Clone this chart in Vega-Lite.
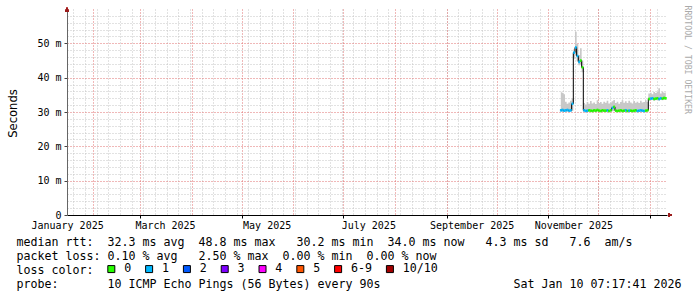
{
  "$schema": "https://vega.github.io/schema/vega-lite/v6.json",
  "autosize": "none",
  "width": 600,
  "height": 206,
  "padding": {"left": 67, "top": 9, "right": 30, "bottom": 82},
  "background": "white",
  "config": {"view": {"stroke": null}, "font": "DejaVu Sans Mono"},
  "data": {"values": [
    {"t": "2025-11-08T12:00:00", "med": 30.5, "lo": 30.0, "hi": 35.9, "loss": "1"},
    {"t": "2025-11-09T12:00:00", "med": 30.6, "lo": 30.0, "hi": 35.6, "loss": "1"},
    {"t": "2025-11-10T12:00:00", "med": 30.4, "lo": 30.0, "hi": 35.2, "loss": "1"},
    {"t": "2025-11-11T12:00:00", "med": 30.5, "lo": 30.0, "hi": 33.0, "loss": "1"},
    {"t": "2025-11-12T12:00:00", "med": 30.6, "lo": 30.1, "hi": 32.4, "loss": "1"},
    {"t": "2025-11-13T12:00:00", "med": 30.4, "lo": 30.0, "hi": 32.8, "loss": "1"},
    {"t": "2025-11-14T12:00:00", "med": 30.5, "lo": 30.0, "hi": 33.3, "loss": "1"},
    {"t": "2025-11-15T12:00:00", "med": 32.4, "lo": 30.3, "hi": 33.9, "loss": "1"},
    {"t": "2025-11-16T12:00:00", "med": 47.3, "lo": 45.5, "hi": 48.3, "loss": "1"},
    {"t": "2025-11-17T12:00:00", "med": 48.8, "lo": 46.5, "hi": 53.4, "loss": "1"},
    {"t": "2025-11-18T12:00:00", "med": 46.3, "lo": 44.8, "hi": 49.8, "loss": "1"},
    {"t": "2025-11-19T12:00:00", "med": 44.6, "lo": 43.6, "hi": 46.6, "loss": "1"},
    {"t": "2025-11-20T12:00:00", "med": 45.0, "lo": 43.8, "hi": 48.6, "loss": "0"},
    {"t": "2025-11-21T12:00:00", "med": 43.0, "lo": 41.6, "hi": 45.0, "loss": "0"},
    {"t": "2025-11-22T12:00:00", "med": 30.5, "lo": 30.0, "hi": 32.6, "loss": "1"},
    {"t": "2025-11-23T12:00:00", "med": 30.3, "lo": 29.9, "hi": 32.2, "loss": "1"},
    {"t": "2025-11-24T12:00:00", "med": 30.4, "lo": 30.0, "hi": 32.9, "loss": "1"},
    {"t": "2025-11-25T12:00:00", "med": 30.5, "lo": 30.0, "hi": 32.4, "loss": "0"},
    {"t": "2025-11-26T12:00:00", "med": 30.4, "lo": 30.0, "hi": 33.2, "loss": "0"},
    {"t": "2025-11-27T12:00:00", "med": 30.3, "lo": 29.9, "hi": 32.5, "loss": "0"},
    {"t": "2025-11-28T12:00:00", "med": 30.5, "lo": 30.0, "hi": 32.8, "loss": "0"},
    {"t": "2025-11-29T12:00:00", "med": 30.4, "lo": 30.0, "hi": 32.3, "loss": "0"},
    {"t": "2025-11-30T12:00:00", "med": 30.6, "lo": 30.1, "hi": 33.4, "loss": "0"},
    {"t": "2025-12-01T12:00:00", "med": 30.4, "lo": 30.0, "hi": 32.6, "loss": "0"},
    {"t": "2025-12-02T12:00:00", "med": 30.3, "lo": 29.9, "hi": 32.9, "loss": "0"},
    {"t": "2025-12-03T12:00:00", "med": 30.5, "lo": 30.0, "hi": 32.4, "loss": "0"},
    {"t": "2025-12-04T12:00:00", "med": 30.4, "lo": 30.0, "hi": 33.0, "loss": "0"},
    {"t": "2025-12-05T12:00:00", "med": 30.4, "lo": 29.9, "hi": 32.7, "loss": "0"},
    {"t": "2025-12-06T12:00:00", "med": 30.5, "lo": 30.0, "hi": 33.3, "loss": "1"},
    {"t": "2025-12-07T12:00:00", "med": 30.3, "lo": 29.9, "hi": 32.5, "loss": "0"},
    {"t": "2025-12-08T12:00:00", "med": 30.5, "lo": 30.0, "hi": 32.8, "loss": "0"},
    {"t": "2025-12-09T12:00:00", "med": 31.2, "lo": 30.2, "hi": 33.1, "loss": "1"},
    {"t": "2025-12-10T12:00:00", "med": 31.5, "lo": 30.3, "hi": 33.5, "loss": "0"},
    {"t": "2025-12-11T12:00:00", "med": 30.4, "lo": 30.0, "hi": 32.6, "loss": "0"},
    {"t": "2025-12-12T12:00:00", "med": 30.3, "lo": 29.9, "hi": 33.0, "loss": "0"},
    {"t": "2025-12-13T12:00:00", "med": 30.4, "lo": 30.0, "hi": 32.4, "loss": "0"},
    {"t": "2025-12-14T12:00:00", "med": 30.5, "lo": 30.0, "hi": 32.9, "loss": "0"},
    {"t": "2025-12-15T12:00:00", "med": 30.3, "lo": 29.9, "hi": 33.4, "loss": "0"},
    {"t": "2025-12-16T12:00:00", "med": 30.4, "lo": 30.0, "hi": 32.7, "loss": "0"},
    {"t": "2025-12-17T12:00:00", "med": 30.5, "lo": 30.0, "hi": 33.1, "loss": "1"},
    {"t": "2025-12-18T12:00:00", "med": 30.3, "lo": 29.9, "hi": 32.6, "loss": "0"},
    {"t": "2025-12-19T12:00:00", "med": 30.4, "lo": 30.0, "hi": 33.3, "loss": "1"},
    {"t": "2025-12-20T12:00:00", "med": 30.4, "lo": 30.0, "hi": 32.8, "loss": "0"},
    {"t": "2025-12-21T12:00:00", "med": 30.3, "lo": 29.9, "hi": 32.5, "loss": "0"},
    {"t": "2025-12-22T12:00:00", "med": 30.4, "lo": 30.0, "hi": 33.2, "loss": "0"},
    {"t": "2025-12-23T12:00:00", "med": 30.5, "lo": 30.0, "hi": 32.7, "loss": "0"},
    {"t": "2025-12-24T12:00:00", "med": 30.3, "lo": 29.9, "hi": 33.0, "loss": "1"},
    {"t": "2025-12-25T12:00:00", "med": 30.4, "lo": 30.0, "hi": 32.6, "loss": "1"},
    {"t": "2025-12-26T12:00:00", "med": 30.5, "lo": 30.0, "hi": 33.3, "loss": "1"},
    {"t": "2025-12-27T12:00:00", "med": 30.4, "lo": 30.0, "hi": 32.8, "loss": "1"},
    {"t": "2025-12-28T12:00:00", "med": 30.3, "lo": 29.9, "hi": 32.9, "loss": "1"},
    {"t": "2025-12-29T12:00:00", "med": 30.4, "lo": 30.0, "hi": 33.4, "loss": "0"},
    {"t": "2025-12-30T12:00:00", "med": 30.5, "lo": 30.0, "hi": 32.9, "loss": "0"},
    {"t": "2025-12-31T12:00:00", "med": 33.8, "lo": 33.3, "hi": 35.4, "loss": "0"},
    {"t": "2026-01-01T12:00:00", "med": 33.9, "lo": 33.4, "hi": 35.6, "loss": "1"},
    {"t": "2026-01-02T12:00:00", "med": 34.0, "lo": 33.5, "hi": 35.2, "loss": "1"},
    {"t": "2026-01-03T12:00:00", "med": 33.8, "lo": 33.3, "hi": 35.8, "loss": "0"},
    {"t": "2026-01-04T12:00:00", "med": 33.9, "lo": 33.4, "hi": 35.5, "loss": "0"},
    {"t": "2026-01-05T12:00:00", "med": 34.0, "lo": 33.5, "hi": 35.9, "loss": "0"},
    {"t": "2026-01-06T12:00:00", "med": 33.8, "lo": 33.3, "hi": 36.9, "loss": "1"},
    {"t": "2026-01-07T12:00:00", "med": 34.0, "lo": 33.5, "hi": 35.4, "loss": "1"},
    {"t": "2026-01-08T12:00:00", "med": 33.9, "lo": 33.4, "hi": 35.9, "loss": "0"},
    {"t": "2026-01-09T12:00:00", "med": 34.1, "lo": 33.5, "hi": 35.6, "loss": "0"},
    {"t": "2026-01-10T12:00:00", "med": 34.0, "lo": 33.5, "hi": 35.7, "loss": "0"}
  ]},
  "resolve": {"axis": {"x": "independent", "y": "independent"}},
  "layer": [
    {
      "mark": {"type": "area", "interpolate": "step", "color": "#c8c8c8"},
      "encoding": {
        "x": {"field": "t", "type": "temporal",
          "scale": {"domain": [{"year": 2025, "month": 1, "date": 16, "hours": 5}, {"year": 2026, "month": 1, "date": 11, "hours": 5}]},
          "axis": {"orient": "bottom", "title": null, "labels": false, "ticks": false, "domain": false, "grid": true, "gridColor": "#c4c4c4", "gridDash": [1, 2],
            "values": [
              {"year": 2025, "month": 1, "date": 20}, {"year": 2025, "month": 1, "date": 27},
              {"year": 2025, "month": 2, "date": 3}, {"year": 2025, "month": 2, "date": 10}, {"year": 2025, "month": 2, "date": 17}, {"year": 2025, "month": 2, "date": 24},
              {"year": 2025, "month": 3, "date": 3}, {"year": 2025, "month": 3, "date": 10}, {"year": 2025, "month": 3, "date": 17}, {"year": 2025, "month": 3, "date": 24}, {"year": 2025, "month": 3, "date": 31},
              {"year": 2025, "month": 4, "date": 7}, {"year": 2025, "month": 4, "date": 14}, {"year": 2025, "month": 4, "date": 21}, {"year": 2025, "month": 4, "date": 28},
              {"year": 2025, "month": 5, "date": 5}, {"year": 2025, "month": 5, "date": 12}, {"year": 2025, "month": 5, "date": 19}, {"year": 2025, "month": 5, "date": 26},
              {"year": 2025, "month": 6, "date": 2}, {"year": 2025, "month": 6, "date": 9}, {"year": 2025, "month": 6, "date": 16}, {"year": 2025, "month": 6, "date": 23}, {"year": 2025, "month": 6, "date": 30},
              {"year": 2025, "month": 7, "date": 7}, {"year": 2025, "month": 7, "date": 14}, {"year": 2025, "month": 7, "date": 21}, {"year": 2025, "month": 7, "date": 28},
              {"year": 2025, "month": 8, "date": 4}, {"year": 2025, "month": 8, "date": 11}, {"year": 2025, "month": 8, "date": 18}, {"year": 2025, "month": 8, "date": 25},
              {"year": 2025, "month": 9, "date": 1}, {"year": 2025, "month": 9, "date": 8}, {"year": 2025, "month": 9, "date": 15}, {"year": 2025, "month": 9, "date": 22}, {"year": 2025, "month": 9, "date": 29},
              {"year": 2025, "month": 10, "date": 6}, {"year": 2025, "month": 10, "date": 13}, {"year": 2025, "month": 10, "date": 20}, {"year": 2025, "month": 10, "date": 27},
              {"year": 2025, "month": 11, "date": 3}, {"year": 2025, "month": 11, "date": 10}, {"year": 2025, "month": 11, "date": 17}, {"year": 2025, "month": 11, "date": 24},
              {"year": 2025, "month": 12, "date": 1}, {"year": 2025, "month": 12, "date": 8}, {"year": 2025, "month": 12, "date": 15}, {"year": 2025, "month": 12, "date": 22}, {"year": 2025, "month": 12, "date": 29},
              {"year": 2026, "month": 1, "date": 5}
            ]}},
        "y": {"field": "lo", "type": "quantitative", "scale": {"domain": [0, 60], "nice": false, "zero": false},
          "axis": {"orient": "left", "title": null, "labels": false, "ticks": false, "domain": false, "grid": true, "gridColor": "#c4c4c4", "gridDash": [1, 2],
            "values": [2, 4, 6, 8, 12, 14, 16, 18, 22, 24, 26, 28, 32, 34, 36, 38, 42, 44, 46, 48, 52, 54, 56, 58]}},
        "y2": {"field": "hi"}
      }
    },
    {
      "mark": {"type": "line", "interpolate": "step", "color": "#000000", "strokeWidth": 1},
      "encoding": {
        "x": {"field": "t", "type": "temporal",
          "axis": {"orient": "bottom", "title": null, "labels": false, "ticks": false, "domain": false, "grid": true, "gridColor": "#e07070", "gridDash": [1, 2],
            "values": [
              {"year": 2025, "month": 2, "date": 1}, {"year": 2025, "month": 3, "date": 1}, {"year": 2025, "month": 4, "date": 1}, {"year": 2025, "month": 5, "date": 1},
              {"year": 2025, "month": 6, "date": 1}, {"year": 2025, "month": 7, "date": 1}, {"year": 2025, "month": 8, "date": 1}, {"year": 2025, "month": 9, "date": 1},
              {"year": 2025, "month": 10, "date": 1}, {"year": 2025, "month": 11, "date": 1}, {"year": 2025, "month": 12, "date": 1}, {"year": 2026, "month": 1, "date": 1}
            ]}},
        "y": {"field": "med", "type": "quantitative",
          "axis": {"orient": "left", "title": null, "labels": false, "ticks": false, "domain": false, "grid": true, "gridColor": "#e07070", "gridDash": [1, 2],
            "values": [10, 20, 30, 40, 50]}}
      }
    },
    {
      "mark": {"type": "tick", "orient": "horizontal", "size": 1.8, "thickness": 2.6, "opacity": 1},
      "encoding": {
        "x": {"field": "t", "type": "temporal",
          "axis": {"orient": "bottom", "grid": false, "ticks": false, "domain": true, "domainColor": "#000000", "domainWidth": 1,
            "labels": true, "format": "%B %Y", "labelFont": "DejaVu Sans Mono", "labelFontSize": 10, "labelColor": "#000000",
            "labelBaseline": "alphabetic", "labelPadding": 13, "labelFlush": false, "labelOverlap": false, "labelAlign": "center",
            "values": [
              {"year": 2025, "month": 1, "date": 16, "hours": 6}, {"year": 2025, "month": 3, "date": 16}, {"year": 2025, "month": 5, "date": 16},
              {"year": 2025, "month": 7, "date": 16}, {"year": 2025, "month": 9, "date": 16}, {"year": 2025, "month": 11, "date": 16}
            ],
            "title": [
              "median\u00a0rtt:\u00a0\u00a032.3\u00a0ms\u00a0avg\u00a0\u00a048.8\u00a0ms\u00a0max\u00a0\u00a0\u00a030.2\u00a0ms\u00a0min\u00a0\u00a034.0\u00a0ms\u00a0now\u00a0\u00a0\u00a04.3\u00a0ms\u00a0sd\u00a0\u00a0\u00a07.6\u00a0\u00a0am/s",
              "packet\u00a0loss:\u00a00.10\u00a0%\u00a0avg\u00a0\u00a0\u00a02.50\u00a0%\u00a0max\u00a0\u00a00.00\u00a0%\u00a0min\u00a0\u00a00.00\u00a0%\u00a0now",
              "loss\u00a0color:",
              "probe:\u00a0\u00a0\u00a0\u00a0\u00a0\u00a0\u00a010\u00a0ICMP\u00a0Echo\u00a0Pings\u00a0(56\u00a0Bytes)\u00a0every\u00a090s\u00a0\u00a0\u00a0\u00a0\u00a0\u00a0\u00a0\u00a0\u00a0\u00a0\u00a0\u00a0\u00a0\u00a0\u00a0\u00a0\u00a0\u00a0\u00a0Sat\u00a0Jan\u00a010\u00a007:17:41\u00a02026"
            ],
            "titleFont": "DejaVu Sans Mono", "titleFontSize": 11.63, "titleFontWeight": "normal", "titleColor": "#000000",
            "titleAlign": "left", "titleAnchor": "start", "titleBaseline": "alphabetic", "titleX": -51, "titleY": 30, "titleLineHeight": 14}},
        "y": {"field": "med", "type": "quantitative",
          "axis": {"orient": "left", "grid": false, "ticks": true, "tickSize": 3, "tickColor": "#444444", "domain": true, "domainColor": "#666666",
            "labels": true, "values": [0, 10, 20, 30, 40, 50],
            "labelExpr": "datum.value == 0 ? '0\u00a0\u00a0' : datum.value + '\u00a0m'",
            "labelFont": "DejaVu Sans Mono", "labelFontSize": 10, "labelColor": "#000000", "labelPadding": 3, "labelBaseline": "middle",
            "title": "Seconds", "titleFont": "DejaVu Sans", "titleFontSize": 11.6, "titleFontWeight": "normal", "titleColor": "#000000",
            "titleAngle": 270, "titleX": -51, "titleY": 104, "titleAlign": "center", "titleBaseline": "alphabetic"}},
        "color": {"field": "loss", "type": "nominal",
          "scale": {"domain": ["0", "1", "2", "3", "4", "5", "6-9", "10/10"],
                    "range": ["#26ff00", "#00b8ff", "#0059ff", "#7e00ff", "#ff00ff", "#ff5500", "#ff0000", "#a10000"]},
          "legend": {"orient": "none", "legendX": 38.5, "legendY": 254, "direction": "horizontal", "title": null, "padding": 0,
            "symbolType": "square", "symbolSize": 49, "symbolStrokeColor": "#000000", "symbolStrokeWidth": 1, "symbolOpacity": 1,
            "labelFont": "DejaVu Sans Mono", "labelFontSize": 11.63, "labelColor": "#000000", "labelOffset": 7, "columnPadding": 11.8}}
      }
    },
    {
      "mark": {"type": "point", "opacity": 0},
      "encoding": {
        "x": {"field": "t", "type": "temporal",
          "axis": {"orient": "bottom", "grid": false, "labels": false, "domain": false, "title": null, "ticks": true, "tickSize": 3, "tickColor": "#000000",
            "values": [
              {"year": 2025, "month": 3, "date": 1}, {"year": 2025, "month": 5, "date": 1}, {"year": 2025, "month": 7, "date": 1},
              {"year": 2025, "month": 9, "date": 1}, {"year": 2025, "month": 11, "date": 1}, {"year": 2026, "month": 1, "date": 1}
            ]}},
        "y": {"field": "med", "type": "quantitative",
          "axis": {"orient": "right", "grid": false, "labels": false, "ticks": false, "domain": false,
            "title": "RRDTOOL / TOBI OETIKER", "titleFont": "DejaVu Sans Mono", "titleFontSize": 8.2, "titleFontWeight": "normal", "titleColor": "#aaaaaa",
            "titleAngle": 90, "titleX": 17, "titleY": -4, "titleAlign": "left", "titleBaseline": "alphabetic"}}
      }
    },
    {
      "mark": {"type": "point", "filled": true, "opacity": 1, "color": "#9b1c1c", "size": 16, "shape": "M-1,1.4L0,-0.6L1,1.4Z"},
      "encoding": {
        "x": {"datum": {"year": 2025, "month": 1, "date": 16, "hours": 5}, "type": "temporal", "axis": null},
        "y": {"datum": 60, "type": "quantitative", "axis": null}
      }
    },
    {
      "mark": {"type": "point", "filled": true, "opacity": 1, "color": "#9b1c1c", "size": 16, "shape": "M0.5,-1L2.5,0L0.5,1Z"},
      "encoding": {
        "x": {"datum": {"year": 2026, "month": 1, "date": 11, "hours": 5}, "type": "temporal", "axis": null},
        "y": {"datum": 0, "type": "quantitative", "axis": null}
      }
    }
  ]
}
